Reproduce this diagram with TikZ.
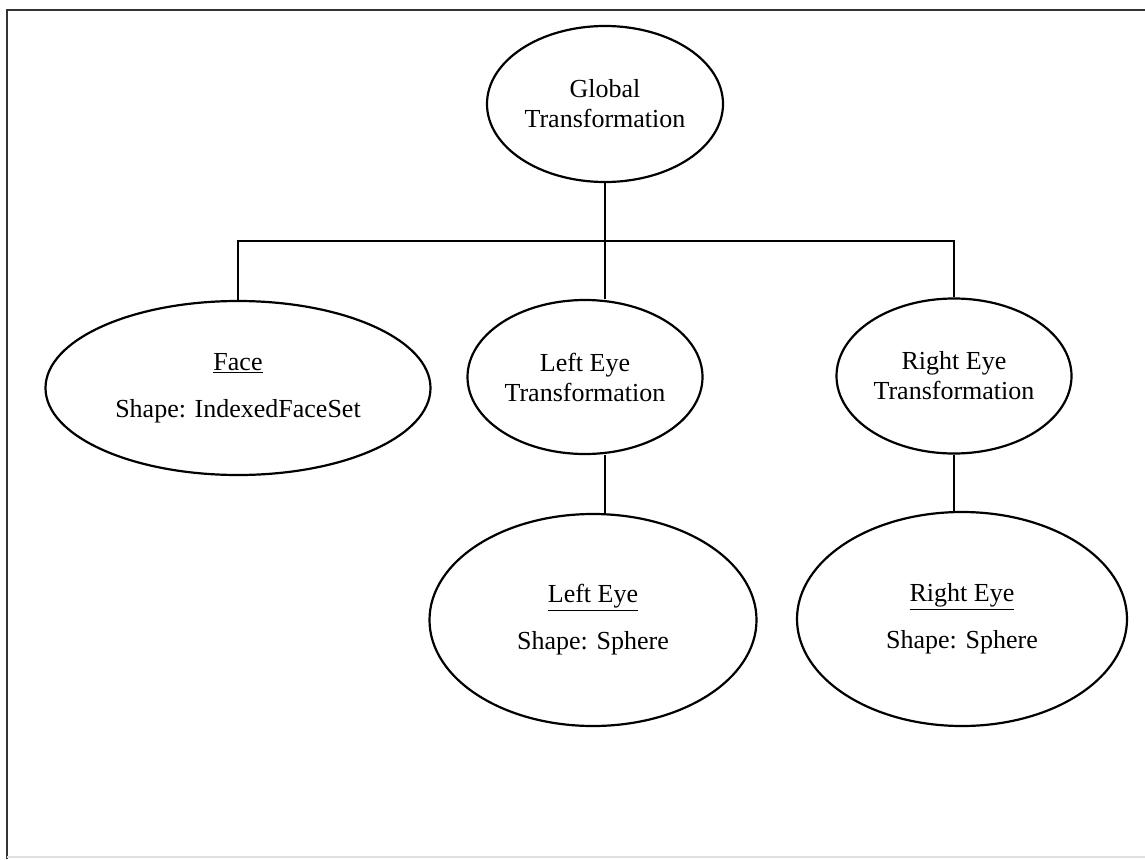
\documentclass[tikz,border=0pt]{standalone}
\usepackage{fontspec}
\setmainfont{Liberation Serif}
\usetikzlibrary{shapes.geometric}

\begin{document}
\begin{tikzpicture}[x=1pt,y=-1pt,
    blob/.style={draw,ellipse,line width=2.2pt,inner sep=0pt,align=center,
        font=\fontsize{26}{30}\selectfont},
    link/.style={line width=2.2pt}]
    \useasboundingbox (0,0) rectangle (1145,859);
    % frame
    \draw[line width=2.8pt,black!80] (1145,10) -- (7,10) -- (7,859);
    \draw[line width=1.5pt,black!12] (7,857) -- (1145,857);

    \node[blob,minimum width=236,minimum height=156] (global) at (605,104) {Global\\Transformation};
    \node[blob,minimum width=385,minimum height=174] (face) at (238,388)
        {\underline{Face}\\[17pt]Shape: IndexedFaceSet};
    \node[blob,minimum width=235,minimum height=154] (lefttrans) at (585,377) {Left Eye\\Transformation};
    \node[blob,minimum width=235,minimum height=155] (righttrans) at (954,376) {Right Eye\\Transformation};
    \node[blob,minimum width=327,minimum height=212] (lefteye) at (593,620)
        {\underline{Left Eye}\\[17pt]Shape: Sphere};
    \node[blob,minimum width=330,minimum height=214] (righteye) at (962,619)
        {\underline{Right Eye}\\[17pt]Shape: Sphere};

    \coordinate (bus) at (605,241);
    \draw[link] (global) -- (bus);
    \draw[link] (face.north) |- (bus) -| (righttrans.north);
    \draw[link] (bus) -- (bus |- lefttrans.north);
    \draw[link] (lefttrans.south -| bus) -- (bus |- lefteye.north);
    \draw[link] (righttrans) -- (righttrans |- righteye.north);
\end{tikzpicture}
\end{document}
